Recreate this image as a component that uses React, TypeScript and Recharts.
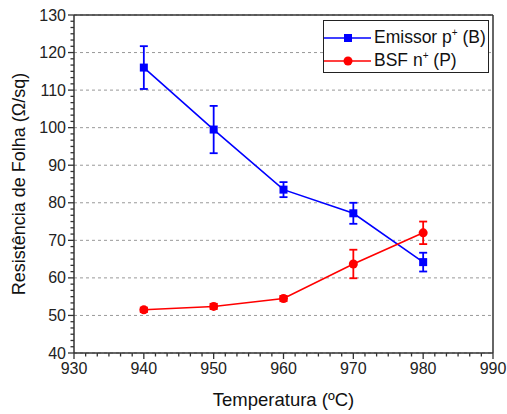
import { LineChart, Line, XAxis, YAxis, CartesianGrid, ErrorBar, ReferenceLine, Legend } from "recharts";

const temperatures = [940, 950, 960, 970, 980];
const emissor = [116, 99.5, 83.5, 77.2, 64.2];
const emissorErr = [5.7, 6.3, 2, 2.8, 2.5];
const bsf = [51.5, 52.4, 54.5, 63.7, 72];
const bsfErr = [0.6, 0.7, 0.7, 3.8, 3];

const xMajor = [930, 940, 950, 960, 970, 980, 990];
const yMajor = [40, 50, 60, 70, 80, 90, 100, 110, 120, 130];

const data = temperatures.map((t, i) => ({
  t,
  emissor: emissor[i],
  emissorErr: emissorErr[i],
  bsf: bsf[i],
  bsfErr: bsfErr[i],
}));

// 5 minor ticks between each pair of majors
const withMinor = (major: number[]) => {
  const out: number[] = [];
  for (let i = 0; i < major.length; i++) {
    out.push(major[i]);
    if (i < major.length - 1) {
      const step = (major[i + 1] - major[i]) / 6;
      for (let k = 1; k < 6; k++) out.push(major[i] + step * k);
    }
  }
  return out;
};

const FONT = "'Liberation Sans', Arial, sans-serif";
const AXIS = "#333";

const XTick = (props: any) => {
  const { x, y, payload } = props;
  const major = xMajor.includes(payload.value);
  return (
    <g>
      <line x1={x} x2={x} y1={y} y2={y + (major ? 6 : 3.5)} stroke={AXIS} strokeWidth={1.3} />
      {major && (
        <text x={x} y={y + 21} textAnchor="middle" fontSize={16} fill="#222" fontFamily={FONT}>
          {payload.value}
        </text>
      )}
    </g>
  );
};

const YTick = (props: any) => {
  const { x, y, payload } = props;
  const major = yMajor.includes(payload.value);
  return (
    <g>
      <line x1={x} x2={x - (major ? 6 : 3.5)} y1={y} y2={y} stroke={AXIS} strokeWidth={1.3} />
      {major && (
        <text x={x - 8} y={y + 5.5} textAnchor="end" fontSize={16} fill="#222" fontFamily={FONT}>
          {payload.value}
        </text>
      )}
    </g>
  );
};

const Square = (props: any) => {
  const { cx, cy } = props;
  return <rect x={cx - 4} y={cy - 4} width={8} height={8} fill="#0000ff" />;
};

const Circle = (props: any) => {
  const { cx, cy } = props;
  return <circle cx={cx} cy={cy} r={4.5} fill="#ff0000" />;
};

const renderLegend = () => {
  const row = (color: string, marker: React.ReactNode, label: React.ReactNode) => (
    <div style={{ display: "flex", alignItems: "center", height: 23 }}>
      <svg width={47} height={14}>
        <line x1={0} x2={47} y1={7} y2={7} stroke={color} strokeWidth={1.5} />
        {marker}
      </svg>
      <span style={{ marginLeft: 3, fontSize: 17.5, fontFamily: FONT, color: "#111", whiteSpace: "nowrap" }}>{label}</span>
    </div>
  );
  return (
    <div
      style={{
        border: "1.3px solid #222",
        background: "#fff",
        width: 166,
        height: 53,
        boxSizing: "border-box",
        padding: "5px 0 0 0",
      }}
    >
      {row("#0000ff", <rect x={20} y={3} width={8} height={8} fill="#0000ff" />, <>Emissor p<sup style={{ fontSize: 10 }}>+</sup> (B)</>)}
      {row("#ff0000", <circle cx={24} cy={7} r={4.5} fill="#ff0000" />, <>BSF n<sup style={{ fontSize: 10 }}>+</sup> (P)</>)}
    </div>
  );
};

export default function App() {
  return (
    <div style={{ position: "absolute", left: 0, top: 0, width: 507, height: 414, background: "#fff" }}>
      <LineChart width={507} height={414} data={data} margin={{ top: 15, right: 14, bottom: 0, left: 0 }}>
        <CartesianGrid vertical={false} horizontalValues={yMajor} stroke="#999" strokeDasharray="3 3" />
        <XAxis
          dataKey="t"
          type="number"
          domain={[930, 990]}
          ticks={withMinor(xMajor)}
          interval={0}
          tick={<XTick />}
          tickLine={false}
          tickSize={0}
          tickMargin={0}
          height={61}
          axisLine={{ stroke: AXIS, strokeWidth: 1.5 }}
          label={{ value: "Temperatura (ºC)", position: "insideBottom", offset: 8, fontSize: 18.5, fill: "#111", fontFamily: FONT }}
        />
        <YAxis
          type="number"
          domain={[40, 130]}
          ticks={withMinor(yMajor)}
          interval={0}
          tick={<YTick />}
          tickLine={false}
          tickSize={0}
          tickMargin={0}
          width={74}
          axisLine={{ stroke: AXIS, strokeWidth: 1.5 }}
          label={{ value: "Resistência de Folha (Ω/sq)", angle: -90, position: "insideLeft", offset: 19, style: { textAnchor: "middle" }, fontSize: 18, fill: "#111", fontFamily: FONT }}
        />
        <ReferenceLine y={130} stroke={AXIS} strokeWidth={1.5} />
        <ReferenceLine x={990} stroke={AXIS} strokeWidth={1.5} />
        <Line dataKey="emissor" stroke="#0000ff" strokeWidth={1.6} dot={<Square />} isAnimationActive={false}>
          <ErrorBar dataKey="emissorErr" width={4} stroke="#0000ff" strokeWidth={1.8} direction="y" />
        </Line>
        <Line dataKey="bsf" stroke="#ff0000" strokeWidth={1.6} dot={<Circle />} isAnimationActive={false}>
          <ErrorBar dataKey="bsfErr" width={4} stroke="#ff0000" strokeWidth={1.8} direction="y" />
        </Line>
        <Legend
          content={renderLegend}
          layout="horizontal"
          verticalAlign="middle"
          align="center"
          wrapperStyle={{ left: 323, top: 20, width: 166, height: 53 }}
        />
      </LineChart>
    </div>
  );
}
